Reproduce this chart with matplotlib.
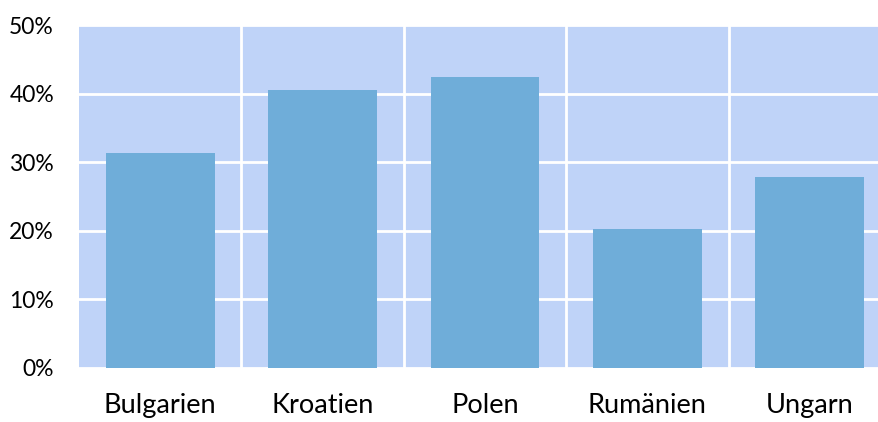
import matplotlib
matplotlib.use("Agg")
import matplotlib.pyplot as plt
from matplotlib.ticker import FuncFormatter

categories = ["Bulgarien", "Kroatien", "Polen", "Rumänien", "Ungarn"]
values = [31.4, 40.5, 42.4, 20.3, 27.9]
yticks = [0, 10, 20, 30, 40, 50]

plt.rcParams['font.family'] = ['Lato', 'DejaVu Sans']

W, H = 879, 422
fig = plt.figure(figsize=(W/100, H/100), dpi=100)
left, right, top, bottom = 79, 891, 25, 368
ax = fig.add_axes([left/W, 1 - bottom/H, (right-left)/W, (bottom-top)/H])
ax.set_facecolor('#BFD3F8')

x = list(range(len(categories)))
ax.bar(x, values, width=0.67, color='#6FADD9', zorder=3)
ax.set_xlim(-0.5, len(categories) - 0.5)
ax.set_ylim(0, 50)
ax.set_yticks(yticks)
ax.yaxis.set_major_formatter(FuncFormatter(lambda v, p: f"{int(v)}%"))
ax.set_xticks(x)
ax.set_xticklabels(categories)
ax.set_xticks([i + 0.5 for i in x[:-1]], minor=True)

ax.grid(axis='y', which='major', color='white', linewidth=2, zorder=1)
ax.grid(axis='x', which='minor', color='white', linewidth=2, zorder=1)
ax.grid(axis='x', which='major', visible=False)
ax.set_axisbelow(True)
for s in ax.spines.values():
    s.set_visible(False)
ax.tick_params(axis='both', which='both', length=0)
ax.tick_params(axis='y', labelsize=16.5, pad=18, colors='black')
ax.tick_params(axis='x', labelsize=19.5, pad=18, colors='black')

fig.savefig("out.png", dpi=100)
